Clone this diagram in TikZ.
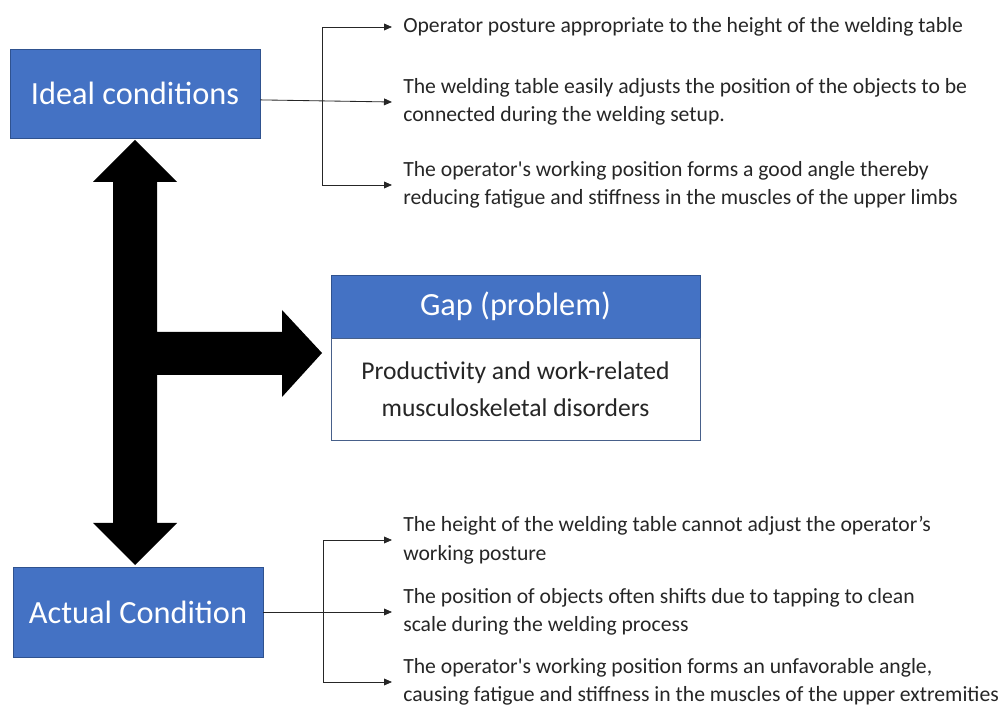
\documentclass[tikz,border=0pt]{standalone}
\usepackage{fontspec}
\setmainfont{Carlito}
\usetikzlibrary{arrows.meta}
\definecolor{boxblue}{HTML}{4472C4}
\definecolor{boxline}{HTML}{2F528F}
\definecolor{txtgray}{HTML}{262626}
\begin{document}
\begin{tikzpicture}[x=0.025cm, y=-0.025cm,
    bluebox/.style={rectangle, draw=boxline, line width=0.5pt, fill=boxblue, text=white, font=\fontsize{23}{27}\selectfont, inner sep=0pt},
    note/.style={anchor=west, align=left, text=txtgray, inner xsep=0.275cm, inner ysep=1pt, font=\fontsize{15.4}{20.3}\selectfont},
    tip/.style={-{Triangle[length=0.2cm, width=0.17cm]}, line width=0.6pt, txtgray}]
  \useasboundingbox (0,0) rectangle (1006,707);

  % left column
  \node[bluebox, minimum width=6.25cm, minimum height=2.225cm] (ideal) at (135,93.5) {Ideal conditions};
  \node[bluebox, minimum width=6.25cm, minimum height=2.25cm] (actual) at (138,612) {Actual Condition};

  % gap box
  \node[bluebox, minimum width=9.225cm, minimum height=1.575cm] (gaphead) at (515.5,306.5) {Gap (problem)};
  \node[rectangle, draw=boxline!70!gray, line width=0.5pt, fill=white, minimum width=9.225cm, minimum height=2.55cm,
        align=center, text=txtgray, font=\fontsize{18.2}{26}\selectfont] (gapbody) at (515.5,389)
        {Productivity and work-related\\musculoskeletal disorders};

  % big block arrow
  \fill[black] (135,140) -- (177,182) -- (157,182) -- (157,332) -- (282,332) -- (282,310) -- (322,353)
    -- (282,397) -- (282,375) -- (157,375) -- (157,523) -- (177,523) -- (135,565) -- (93,523)
    -- (113,523) -- (113,182) -- (93,182) -- cycle;

  % ideal conditions
  \node[note] (i1) at (392,27) {Operator posture appropriate to the height of the welding table};
  \node[note] (i2) at (392,102) {The welding table easily adjusts the position of the objects to be\\connected during the welding setup.};
  \node[note] (i3) at (392,185) {The operator\textquotesingle s working position forms a good angle thereby\\reducing fatigue and stiffness in the muscles of the upper limbs};
  \coordinate (bktop) at (322,0);
  \draw[tip] (i3.west -| bktop) -- (i1.west -| bktop) -- (i1.west);
  \draw[tip] (i3.west -| bktop) -- (i3.west);
  \draw[tip] ([yshift=-0.16cm]ideal.east) -- (i2.west);

  % actual condition
  \node[note] (a1) at (392,540) {The height of the welding table cannot adjust the operator’s\\working posture};
  \node[note] (a2) at (392,612) {The position of objects often shifts due to tapping to clean\\scale during the welding process};
  \node[note] (a3) at (392,682) {The operator\textquotesingle s working position forms an unfavorable angle,\\causing fatigue and stiffness in the muscles of the upper extremities};
  \coordinate (bkbot) at (323,0);
  \draw[tip] (a3.west -| bkbot) -- (a1.west -| bkbot) -- (a1.west);
  \draw[tip] (a3.west -| bkbot) -- (a3.west);
  \draw[tip] (actual.east) -- (a2.west);
\end{tikzpicture}
\end{document}
